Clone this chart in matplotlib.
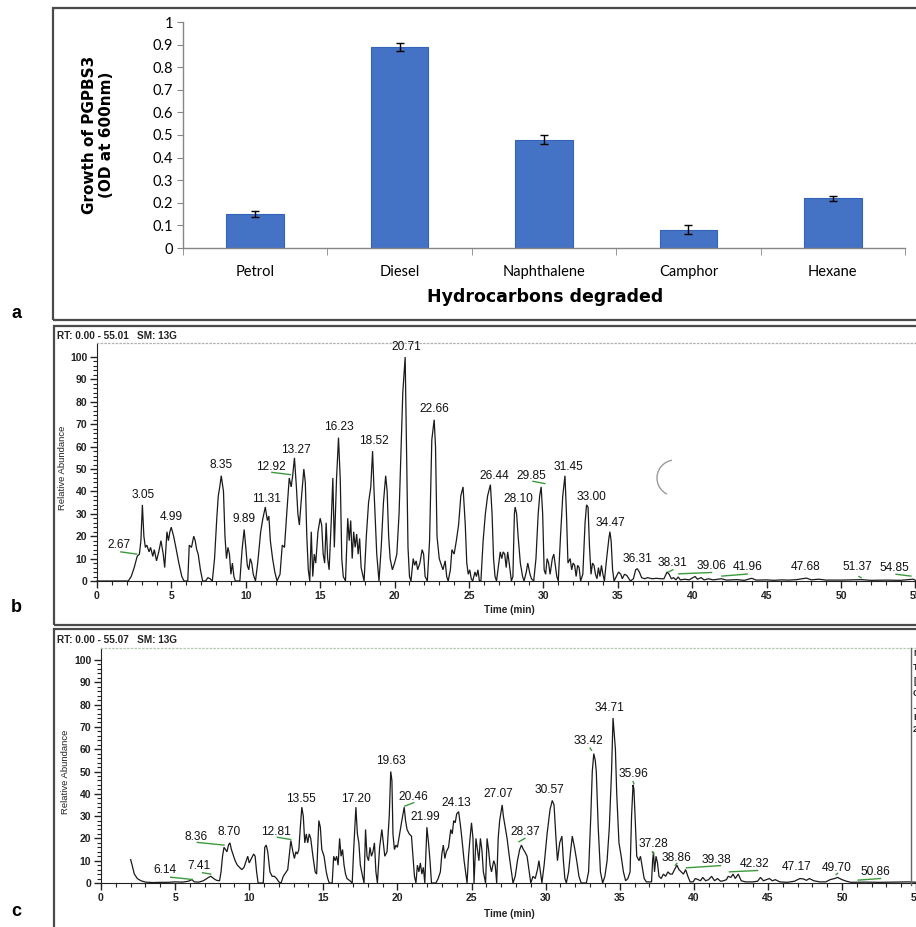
import matplotlib
matplotlib.use("Agg")
import matplotlib.pyplot as plt
from matplotlib.patches import Rectangle, Arc
from matplotlib.lines import Line2D
from matplotlib.ticker import MultipleLocator, FixedLocator

# ---------------- data: panel a ----------------
categories = ["Petrol", "Diesel", "Naphthalene", "Camphor", "Hexane"]
growth_od = [0.15, 0.89, 0.48, 0.08, 0.22]
growth_err = [0.012, 0.019, 0.02, 0.02, 0.012]
a_yticks = [0, 0.1, 0.2, 0.3, 0.4, 0.5, 0.6, 0.7, 0.8, 0.9, 1]
a_yticklabels = ["0", "0.1", "0.2", "0.3", "0.4", "0.5", "0.6", "0.7", "0.8", "0.9", "1"]

# ---------------- data: panel b (chromatogram) ----------------
b_time = [0, 2.1, 2.3, 2.5, 2.7, 2.85, 2.95, 3.05, 3.15, 3.25, 3.35, 3.5, 3.6, 3.75, 3.85, 4.0, 4.15, 4.3,
          4.45, 4.55, 4.7, 4.8, 4.9, 4.99, 5.15, 5.3, 5.5, 5.7, 5.85, 6.1, 6.2, 6.35, 6.5, 6.6, 6.7, 6.8,
          6.95, 7.1, 7.3, 7.45, 7.6, 7.75, 7.9, 8.05, 8.15, 8.25, 8.35, 8.5, 8.6, 8.7, 8.8, 8.9, 9.0, 9.1,
          9.2, 9.3, 9.6, 9.75, 9.89, 10.0, 10.1, 10.2, 10.3, 10.4, 10.5, 10.65, 10.8, 11.0, 11.15, 11.31,
          11.45, 11.55, 11.65, 11.8, 11.95, 12.1, 12.3, 12.45, 12.6, 12.75, 12.92, 13.05, 13.15, 13.27,
          13.4, 13.5, 13.6, 13.75, 13.9, 14.0, 14.1, 14.2, 14.3, 14.4, 14.5, 14.6, 14.7, 14.85, 15.0,
          15.1, 15.2, 15.3, 15.4, 15.5, 15.6, 15.75, 15.85, 15.95, 16.1, 16.23, 16.35, 16.45, 16.55,
          16.7, 16.85, 16.95, 17.05, 17.15, 17.25, 17.35, 17.45, 17.55, 17.65, 17.75, 17.85, 17.95,
          18.1, 18.25, 18.4, 18.52, 18.62, 18.7, 18.8, 18.95, 19.1, 19.25, 19.4, 19.5, 19.6, 19.7,
          19.85, 20.0, 20.15, 20.3, 20.45, 20.55, 20.71, 20.8, 20.9, 21.0, 21.1, 21.25, 21.35, 21.45,
          21.55, 21.7, 21.85, 21.95, 22.05, 22.2, 22.35, 22.5, 22.66, 22.75, 22.85, 23.0, 23.1, 23.25,
          23.4, 23.5, 23.6, 23.75, 23.85, 24.0, 24.15, 24.3, 24.45, 24.6, 24.75, 24.85, 24.95, 25.05,
          25.15, 25.25, 25.4, 25.5, 25.6, 25.7, 25.8, 25.95, 26.1, 26.25, 26.44, 26.55, 26.65, 26.75,
          26.85, 27.0, 27.1, 27.2, 27.3, 27.4, 27.5, 27.6, 27.7, 27.85, 27.95, 28.05, 28.1, 28.2, 28.3,
          28.45, 28.6, 28.7, 28.85, 28.95, 29.1, 29.2, 29.35, 29.5, 29.65, 29.75, 29.85, 29.95, 30.05,
          30.15, 30.25, 30.35, 30.45, 30.6, 30.7, 30.8, 30.9, 31.0, 31.15, 31.3, 31.45, 31.55, 31.65,
          31.8, 31.9, 32.0, 32.1, 32.2, 32.3, 32.4, 32.5, 32.65, 32.8, 32.9, 33.0, 33.1, 33.2, 33.3,
          33.4, 33.5, 33.6, 33.7, 33.8, 33.9, 34.0, 34.1, 34.25, 34.4, 34.47, 34.55, 34.65, 34.75, 34.9,
          35.05, 35.2, 35.3, 35.45, 35.6, 35.75, 35.85, 36.05, 36.2, 36.31, 36.45, 36.6, 36.8, 37.0,
          37.3, 37.6, 37.9, 38.1, 38.31, 38.45, 38.6, 38.75, 38.9, 39.06, 39.2, 39.5, 39.8, 40.05, 40.2,
          40.35, 40.6, 40.8, 41.1, 41.4, 41.96, 42.3, 43.0, 43.5, 44.0, 44.3, 45.0, 45.5, 46.0, 46.5,
          47.0, 47.68, 48.0, 48.5, 49.0, 50.0, 51.37, 52.0, 53.0, 54.0, 54.85, 55.01]
b_abund = [0, 0, 2, 6, 11, 12, 18, 34, 20, 15, 16, 13, 15, 11, 14, 9, 13, 18,
           12, 6, 22, 18, 22, 24, 20, 15, 8, 2, 0, 0, 16, 15, 20, 18, 14, 12,
           5, 0, 0, 1.5, 1, 0, 10, 28, 38, 42, 47, 40, 20, 10, 15, 12, 3, 8,
           2, 0, 0, 14, 23, 15, 7, 5, 10, 8, 3, 0, 8, 22, 28, 33,
           27, 29, 18, 10, 4, 0, 3, 16, 15, 30, 46, 42, 47, 55,
           42, 30, 25, 38, 50, 44, 20, 5, 0, 22, 2, 12, 8, 22, 28,
           25, 12, 8, 26, 10, 5, 28, 46, 15, 46, 64, 45, 10, 2,
           0, 28, 18, 27, 10, 22, 15, 21, 12, 19, 6, 3, 0,
           20, 35, 42, 58, 40, 28, 12, 0, 15, 35, 47, 40, 20, 10,
           5, 8, 12, 30, 62, 84, 100, 60, 15, 2, 0, 10, 7, 9,
           5, 8, 14, 12, 2, 0, 18, 63, 72, 60, 20, 10, 8, 5,
           9, 2, 0, 5, 14, 12, 18, 25, 38, 42, 25, 8, 3, 5,
           1, 0, 4, 2, 5, 0, 0, 18, 30, 38, 43, 30, 10, 2,
           0, 8, 13, 10, 13, 12, 6, 13, 8, 0, 2, 30, 33, 30, 20,
           8, 2, 0, 4, 8, 3, 1, 0, 10, 30, 38, 42, 30, 5,
           3, 10, 8, 3, 10, 12, 7, 2, 0, 20, 38, 47, 30, 8,
           10, 5, 8, 7, 2, 7, 6, 0, 3, 26, 34, 33, 15, 3, 8,
           7, 3, 1, 6, 2, 7, 3, 0, 10, 19, 22, 18, 5, 0, 2,
           4, 3, 1, 3, 2.5, 1, 0, 1, 5, 5.5, 4, 1.5, 1, 1.5,
           1, 1.2, 1, 1, 4, 3, 1, 1.5, 0.5, 1.8, 0.5, 0.8, 0.5, 1.5, 2,
           0.8, 1.5, 0.5, 1, 0.5, 1, 0.4, 0.6, 0.3, 1.2, 0.4, 0.5, 0.3, 0.5, 0.4,
           0.6, 1.3, 0.5, 0.8, 0.4, 0.4, 0.6, 0.3, 0.4, 0.3, 0.8, 0.3]
b_peak_labels = ["2.67", "3.05", "4.99", "8.35", "9.89", "11.31", "12.92", "13.27", "16.23", "18.52",
                 "20.71", "22.66", "26.44", "28.10", "29.85", "31.45", "33.00", "34.47", "36.31",
                 "38.31", "39.06", "41.96", "47.68", "51.37", "54.85"]
b_label_t = [1.45, 3.07, 5.0, 8.35, 9.9, 11.36, 11.7, 13.36, 16.26, 18.6, 20.82, 22.7, 26.7, 28.3,
             29.2, 31.67, 33.2, 34.5, 36.3, 38.7, 41.3, 43.7, 47.6, 51.1, 53.6]
b_label_a = [13.5, 35.5, 26, 49, 25, 34, 48, 56, 66, 60, 102, 74, 44.4, 34, 44, 48, 35, 23, 7,
             5.2, 4.2, 3.4, 3.7, 3.4, 3.1]
# integration-baseline marks (t0, a0, t1, a1)
b_marks = [(1.6, 13, 2.67, 12), (11.75, 48.5, 13.0, 47.5), (29.3, 44.5, 30.1, 43.5),
           (38.4, 4, 38.7, 5), (39.1, 3.2, 41.3, 3.8), (42.0, 2.2, 43.7, 3.1),
           (51.2, 2.0, 51.35, 1.5), (53.7, 3.0, 54.7, 2.2)]

# ---------------- data: panel c (chromatogram) ----------------
c_time = [2.0, 2.1, 2.25, 2.45, 2.7, 3.0, 3.5, 4.0, 4.5, 5.0, 5.5, 5.9, 6.14, 6.3, 6.6, 6.9, 7.1, 7.25,
          7.41, 7.6, 7.8, 8.0, 8.1, 8.2, 8.3, 8.4, 8.5, 8.6, 8.7, 8.8, 8.9, 9.05, 9.2, 9.35, 9.5, 9.65,
          9.8, 9.9, 10.0, 10.15, 10.3, 10.4, 10.5, 10.6, 10.95, 11.05, 11.15, 11.25, 11.4, 11.55, 11.7,
          11.85, 12.0, 12.15, 12.3, 12.45, 12.6, 12.7, 12.81, 12.95, 13.05, 13.15, 13.25, 13.35, 13.45,
          13.55, 13.65, 13.75, 13.85, 13.95, 14.05, 14.15, 14.3, 14.45, 14.55, 14.7, 14.8, 14.9, 15.05,
          15.2, 15.3, 15.4, 15.6, 15.7, 15.8, 15.9, 16.0, 16.1, 16.2, 16.3, 16.4, 16.5, 16.6, 16.8,
          16.95, 17.05, 17.2, 17.3, 17.4, 17.5, 17.65, 17.75, 17.85, 17.95, 18.05, 18.15, 18.25, 18.35,
          18.45, 18.55, 18.65, 18.8, 18.95, 19.05, 19.15, 19.3, 19.45, 19.55, 19.63, 19.7, 19.8, 19.9,
          20.0, 20.15, 20.3, 20.46, 20.55, 20.65, 20.8, 20.95, 21.05, 21.15, 21.25, 21.35, 21.45, 21.55,
          21.65, 21.75, 21.85, 21.99, 22.1, 22.2, 22.3, 22.6, 22.75, 22.9, 23.0, 23.1, 23.2, 23.3,
          23.45, 23.6, 23.7, 23.8, 23.9, 24.0, 24.13, 24.25, 24.35, 24.5, 24.6, 24.7, 24.8, 24.9, 25.0,
          25.1, 25.17, 25.3, 25.4, 25.5, 25.6, 25.7, 25.8, 25.95, 26.05, 26.15, 26.25, 26.35, 26.5,
          26.6, 26.7, 26.8, 26.9, 27.07, 27.15, 27.25, 27.4, 27.55, 27.7, 27.8, 27.95, 28.1, 28.25,
          28.37, 28.5, 28.6, 28.75, 28.9, 29.0, 29.15, 29.3, 29.45, 29.55, 29.65, 29.75, 29.9, 30.1,
          30.3, 30.45, 30.57, 30.7, 30.8, 30.95, 31.1, 31.2, 31.3, 31.4, 31.55, 31.7, 31.8, 31.95,
          32.1, 32.25, 32.4, 32.75, 32.9, 33.05, 33.15, 33.25, 33.35, 33.42, 33.55, 33.7, 33.85, 34.0,
          34.15, 34.3, 34.45, 34.55, 34.71, 34.8, 34.95, 35.1, 35.25, 35.4, 35.55, 35.7, 35.8, 35.9,
          35.96, 36.05, 36.15, 36.3, 36.4, 36.5, 36.65, 36.8, 37.15, 37.22, 37.28, 37.35, 37.45, 37.55,
          37.65, 37.8, 37.95, 38.1, 38.25, 38.4, 38.55, 38.7, 38.86, 39.0, 39.15, 39.3, 39.45, 39.6,
          39.75, 39.95, 40.1, 40.3, 40.45, 40.6, 40.8, 41.0, 41.2, 41.4, 41.6, 41.8, 42.0, 42.2, 42.32,
          42.5, 42.65, 42.8, 43.0, 43.2, 43.5, 44.0, 44.3, 44.5, 44.7, 44.9, 45.1, 45.3, 45.5, 45.8,
          46.3, 46.8, 47.0, 47.17, 47.4, 47.6, 47.8, 48.1, 48.5, 48.9, 49.2, 49.5, 49.7, 50.0, 50.3,
          50.6, 51.5, 52.5, 53.5, 54.5, 55.07]
c_abund = [10.5, 8, 4, 2, 1, 0.4, 0.2, 0.3, 0.3, 0.5, 0.4, 0.8, 1.5, 0.5, 0.4, 1, 1.8, 2.5,
           3, 2, 1.2, 1, 5, 12, 16, 15, 14, 17, 18, 15, 13, 10, 8, 7, 6, 7,
           10, 12, 9, 11, 13, 12, 5, 0, 0, 16, 17, 14, 5, 3, 3,
           2, 0.5, 0, 3, 4.5, 6, 12, 19, 14, 11, 14, 13, 15, 25,
           34, 30, 18, 22, 18, 22, 20, 12, 5, 4, 28, 25, 15, 12,
           5, 2, 0, 0, 12, 10, 12, 8, 20, 12, 15, 8, 4, 2, 1,
           0, 15, 34, 22, 18, 8, 3, 0, 24, 12, 10, 16, 12, 14,
           18, 5, 0, 16, 24, 18, 12, 14, 30, 50, 46, 22, 15, 17,
           16, 22, 28, 34, 28, 24, 22, 21, 12, 3, 0, 8, 5, 9,
           4, 7, 0, 25, 18, 10, 0, 0, 2, 5, 13, 17, 11, 14,
           16, 24, 22, 28, 27, 31, 32, 26, 20, 10, 5, 0, 12, 20, 27,
           20, 0, 20, 15, 10, 20, 15, 5, 0, 20, 15, 8, 5, 10,
           8, 0, 20, 28, 35, 30, 26, 20, 12, 5, 0, 3, 10, 15,
           17, 15, 14, 12, 5, 0, 3, 2, 6, 10, 5, 0, 8, 22,
           33, 37, 35, 20, 10, 18, 21, 10, 2, 0, 5, 15, 21, 16,
           10, 3, 0, 0, 5, 30, 50, 58, 55, 50, 25, 5, 0, 3,
           10, 25, 50, 74, 60, 40, 18, 12, 5, 1, 2, 5, 30, 44,
           42, 28, 12, 10, 12, 8, 2, 0.5, 0.5, 10, 14, 5, 12, 9,
           3, 2, 4, 3, 5, 4, 4, 6, 8, 6, 5, 4, 6, 3,
           0.5, 0.5, 2, 1.5, 1, 2.5, 1, 1.5, 3, 1, 2, 0.8, 1, 1.5, 3,
           2.5, 4, 2, 4, 1, 0.5, 0.5, 0.8, 2.5, 1, 1.5, 2, 1, 1.5, 0.5,
           0.3, 0.8, 1.5, 2, 1.8, 1.2, 2, 1, 0.5, 0.5, 1.5, 2, 2.5, 1.5, 0.8,
           0.3, 0.4, 0.3, 0.4, 0.5, 0.3]
c_peak_labels = ["6.14", "7.41", "8.36", "8.70", "12.81", "13.55", "17.20", "19.63", "20.46", "21.99",
                 "24.13", "27.07", "28.37", "30.57", "33.42", "34.71", "35.96", "37.28", "38.86",
                 "39.38", "42.32", "47.17", "49.70", "50.86"]
c_label_t = [4.34, 6.6, 6.4, 8.64, 11.8, 13.46, 17.17, 19.55, 21.1, 21.9, 24.0, 26.81, 28.6, 30.25,
             32.88, 34.34, 35.92, 37.27, 38.8, 41.5, 44.1, 46.95, 49.65, 52.23]
c_label_a = [3, 5, 18, 20, 20, 35, 35, 52, 36, 27, 33, 37, 20, 39, 61, 76, 46, 14.6, 8.7, 7.8,
             5.7, 4.5, 4.2, 2.2]
c_marks = [(4.7, 2.6, 6.15, 1.6), (6.85, 4.6, 7.4, 4.0), (6.5, 18.2, 8.3, 17.0),
           (11.9, 20.5, 12.8, 19.5), (20.5, 34.5, 21.1, 36.0), (28.2, 18.5, 28.6, 20.0),
           (33.0, 60.5, 33.1, 59.5), (35.9, 45.5, 35.96, 44.5), (37.2, 14.0, 37.3, 13.0),
           (38.75, 8.0, 38.86, 8.8), (39.5, 6.8, 41.8, 7.8), (42.4, 5.0, 44.3, 5.6),
           (49.6, 3.8, 49.7, 4.3), (51.1, 1.3, 52.6, 2.0)]

W, H = 916, 927
fx = lambda X: X / W
fy = lambda Y: 1 - Y / H

fig = plt.figure(figsize=(W / 100, H / 100), dpi=100)
fig.patch.set_facecolor("white")

# ---------------- panel frames ----------------
for (x0, y0, x1, y1) in [(53, 8, 930, 320), (54, 326, 930, 625), (54, 629, 930, 940)]:
    fig.add_artist(Rectangle((fx(x0), fy(y1)), fx(x1) - fx(x0), fy(y0) - fy(y1),
                             transform=fig.transFigure, fill=False, edgecolor="#4a4a4a", lw=1.6))

for lab, (X, Y) in zip(["a", "b", "c"], [(16, 314), (16, 607), (16, 911)]):
    fig.text(fx(X), fy(Y), lab, fontsize=13, fontweight="bold", family="Liberation Sans",
             ha="center", va="center")

# ---------------- panel a ----------------
axa = fig.add_axes([fx(183), fy(248), (905 - 183) / W, (248 - 22) / H])
xpos = list(range(len(categories)))
axa.bar(xpos, growth_od, width=0.4, color="#4472C4", edgecolor="#3463b5", linewidth=0.8, zorder=2)
axa.errorbar(xpos, growth_od, yerr=growth_err, fmt="none", ecolor="black", elinewidth=1,
             capsize=3, capthick=1, zorder=3)
axa.set_xlim(-0.5, len(categories) - 0.5)
axa.set_ylim(0, 1)
axa.set_yticks(a_yticks)
axa.set_yticklabels(a_yticklabels, fontsize=10.5, family="Lato")
axa.set_xticks(xpos)
axa.set_xticklabels(categories, fontsize=10.5, family="Lato")
axa.xaxis.set_minor_locator(FixedLocator([i - 0.5 for i in range(len(categories) + 1)]))
axa.tick_params(axis="x", which="major", length=0, pad=12)
axa.tick_params(axis="x", which="minor", length=5, color="#868686", direction="out")
axa.tick_params(axis="y", which="major", length=4, color="#868686", direction="out", pad=3)
for s in ["top", "right"]:
    axa.spines[s].set_visible(False)
for s in ["left", "bottom"]:
    axa.spines[s].set_color("#868686")
    axa.spines[s].set_linewidth(1)
fig.text(fx(545), fy(297), "Hydrocarbons degraded", fontsize=12.5, fontweight="bold",
         family="DejaVu Sans", ha="center", va="center")
fig.text(fx(98), fy(135), "Growth of PGPBS3\n(OD at 600nm)", fontsize=11, fontweight="bold",
         family="DejaVu Sans", ha="center", va="center", rotation=90, linespacing=1.15)


# ---------------- chromatogram helper ----------------
def chromatogram(rect, t, a, tmax, ytop, labels, lt, la, marks, rt_text, rt_y, ylab_x, ylab_y,
                 time_y, topcolor):
    ax = fig.add_axes(rect)
    ax.plot(t, a, color="#1a1a1a", lw=0.9, solid_joinstyle="miter", zorder=3, clip_on=False)
    ax.set_xlim(0, tmax)
    ax.set_ylim(0, ytop)
    ax.xaxis.set_major_locator(MultipleLocator(5))
    ax.xaxis.set_minor_locator(MultipleLocator(1))
    ax.set_yticks(range(0, 101, 10))
    ax.yaxis.set_minor_locator(FixedLocator(range(0, 101, 2)))
    ax.tick_params(axis="both", which="major", length=5, width=1, color="#222", direction="out",
                   labelsize=7.5, pad=2)
    ax.tick_params(axis="both", which="minor", length=3, width=0.8, color="#222", direction="out")
    for lbl in ax.get_xticklabels() + ax.get_yticklabels():
        lbl.set_fontweight("bold")
        lbl.set_family("Liberation Sans")
        lbl.set_color("#222")
    ax.spines["right"].set_visible(False)
    ax.spines["top"].set_linestyle((0, (1, 2)))
    ax.spines["top"].set_color(topcolor)
    ax.spines["top"].set_linewidth(0.9)
    ax.spines["left"].set_color("#222")
    ax.spines["bottom"].set_color("#222")
    for txt, x, y in zip(labels, lt, la):
        ax.text(x, y, txt, ha="center", va="bottom", fontsize=8.6, family="Liberation Sans",
                color="#111", zorder=4)
    for (t0, a0, t1, a1) in marks:
        ax.plot([t0, t1], [a0, a1], color="#3c9a3c", lw=1.0, zorder=4)
    fig.text(fx(57), fy(rt_y), rt_text, fontsize=7.2, fontweight="bold", family="Liberation Sans",
             ha="left", va="center", color="#222")
    fig.text(fx(ylab_x), fy(ylab_y), "Relative Abundance", fontsize=6.8, family="Liberation Sans",
             ha="center", va="center", rotation=90, color="#222")
    fig.text(fx(509), fy(time_y), "Time (min)", fontsize=7.2, fontweight="bold",
             family="Liberation Sans", ha="center", va="center", color="#222")
    return ax


b_tmax = 55.01
c_tmax = 55.07
axb = chromatogram([fx(97), fy(581), b_tmax * 14.88 / W, (581 - 343) / H], b_time, b_abund, b_tmax,
                   (581 - 343) / 2.24, b_peak_labels, b_label_t, b_label_a, b_marks,
                   "RT: 0.00 - 55.01   SM: 13G", 336, 63, 468, 610, "#b0b0b0")
axc = chromatogram([fx(101), fy(883), c_tmax * 14.82 / W, (883 - 648) / H], c_time, c_abund, c_tmax,
                   (883 - 648) / 2.23, c_peak_labels, c_label_t, c_label_a, c_marks,
                   "RT: 0.00 - 55.07   SM: 13G", 640, 66, 772, 914, "#b5c8b0")

# scan artefact in panel b
fig.add_artist(Arc((fx(675), fy(478)), 36 / W, 36 / H, theta1=100, theta2=243,
                   transform=fig.transFigure, color="#9a9a9a", lw=1))

# info column cut off at the right of panel c
fig.add_artist(Line2D([fx(911), fx(911)], [fy(648), fy(885)], transform=fig.transFigure,
                      color="#666", lw=1))
for txt, Y in [("NL:", 653), ("TIC", 668), ("[", 681), ("C", 694), ("_", 706), ("B", 718), ("2", 730)]:
    fig.text(fx(913), fy(Y), txt, fontsize=6.5, fontweight="bold", family="Liberation Sans",
             ha="left", va="center", color="#222")

fig.savefig("out.png", dpi=100)
